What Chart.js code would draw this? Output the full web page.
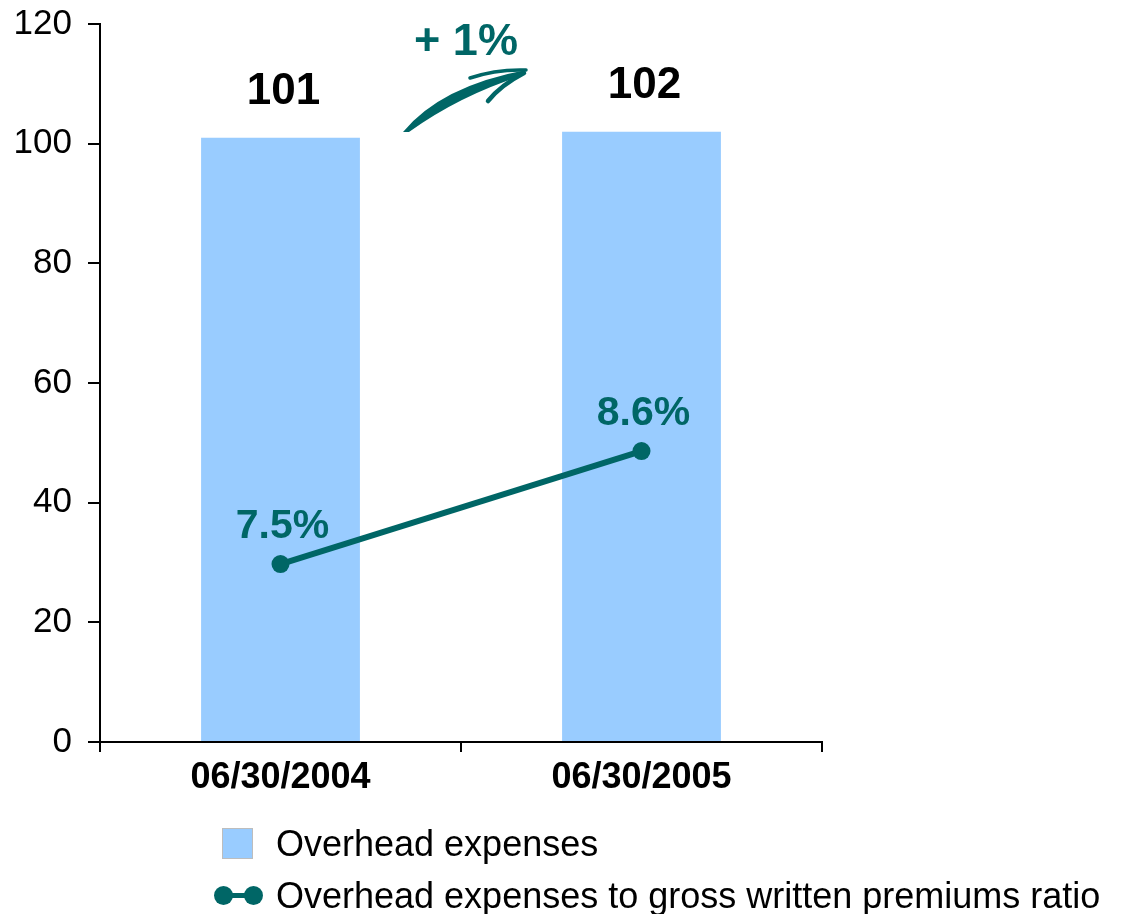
<!DOCTYPE html>
<html>
<head>
<meta charset="utf-8">
<script src="https://cdn.jsdelivr.net/npm/chart.js@4"></script>
<style>
  html, body { margin: 0; padding: 0; background: #fff; }
  #wrap { position: relative; width: 1131px; height: 914px; }
  #legend { position: absolute; left: 0; top: 0; font-family: "Liberation Sans", Arial, sans-serif; font-size: 36px; color: #000; }
  .item { position: absolute; left: 214px; white-space: nowrap; line-height: 36px; }
  .item span.txt { position: absolute; left: 62px; top: 0; }
  .box { position: absolute; left: 8px; top: 2px; width: 29px; height: 29px; border: 1px solid #bdbdbd; }
  .dot { position: absolute; top: 8px; width: 19px; height: 19px; border-radius: 50%; }
  .bar { position: absolute; left: 9px; top: 15px; width: 30px; height: 5px; }
</style>
</head>
<body>
<div id="wrap">
  <canvas id="myChart" width="1131" height="914"></canvas>
  <div id="legend"></div>
</div>
<script>
const categories = ['06/30/2004', '06/30/2005'];
const overheadExpenses = [101, 102];
const overheadRatio = [7.5, 8.6];
const seriesNames = [
  'Overhead expenses',
  'Overhead expenses to gross written premiums ratio',
];

const barColor = '#99CCFF';
const teal = '#006666';
const fontFamily = '"Liberation Sans", Arial, sans-serif';

// value labels, growth note and the swoosh arrow between the bars
const labelPlugin = {
  id: 'labelPlugin',
  afterDatasetsDraw(chart) {
    const ctx = chart.ctx;
    const bars = chart.getDatasetMeta(0).data;
    const points = chart.getDatasetMeta(1).data;
    ctx.save();
    ctx.textAlign = 'center';
    ctx.textBaseline = 'middle';

    ctx.fillStyle = '#000';
    ctx.font = 'bold 44px ' + fontFamily;
    bars.forEach((el, i) => ctx.fillText(String(overheadExpenses[i]), el.x + 3, el.y - 46));

    ctx.fillStyle = teal;
    ctx.font = 'bold 41px ' + fontFamily;
    points.forEach((el, i) => ctx.fillText(overheadRatio[i].toFixed(1) + '%', el.x + 2, el.y - 37));

    const mid = (bars[0].x + bars[1].x) / 2;
    const top = chart.chartArea.top;
    const growth = Math.round((overheadExpenses[1] - overheadExpenses[0]) / overheadExpenses[0] * 100);
    ctx.font = 'bold 45px ' + fontFamily;
    ctx.fillText('+ ' + growth + '%', mid + 5, top + 19);

    ctx.beginPath();
    ctx.moveTo(mid - 58, top + 108);
    ctx.quadraticCurveTo(mid - 20, top + 62, mid + 65, top + 46);
    ctx.lineTo(mid + 60, top + 52);
    ctx.quadraticCurveTo(mid - 2, top + 72, mid - 52, top + 108);
    ctx.closePath();
    ctx.fill();

    ctx.strokeStyle = teal;
    ctx.lineCap = 'round';
    ctx.lineWidth = 3.5;
    ctx.beginPath();
    ctx.moveTo(mid + 9, top + 54);
    ctx.quadraticCurveTo(mid + 35, top + 45, mid + 65, top + 46);
    ctx.stroke();
    ctx.lineWidth = 4.5;
    ctx.beginPath();
    ctx.moveTo(mid + 27, top + 77);
    ctx.quadraticCurveTo(mid + 40, top + 61, mid + 63, top + 49);
    ctx.stroke();
    ctx.restore();
  }
};

const data = {
  labels: categories,
  datasets: [{
    type: 'bar',
    label: seriesNames[0],
    data: overheadExpenses,
    backgroundColor: barColor,
    borderWidth: 0,
    categoryPercentage: 1.0,
    barPercentage: 0.44,
    yAxisID: 'y',
    order: 1,
  }, {
    type: 'line',
    label: seriesNames[1],
    data: overheadRatio,
    borderColor: teal,
    backgroundColor: teal,
    borderWidth: 6,
    pointRadius: 9,
    pointBackgroundColor: teal,
    pointBorderWidth: 0,
    yAxisID: 'y1',
    order: 0,
  }]
};

const config = {
  data: data,
  options: {
    responsive: false,
    animation: false,
    layout: {
      padding: { top: 24, left: 0, right: 309, bottom: 112 }
    },
    plugins: {
      legend: { display: false },
      tooltip: { enabled: false },
    },
    scales: {
      x: {
        afterFit: s => { s.height = 60; },
        grid: {
          offset: true,
          drawOnChartArea: false,
          tickLength: 10,
          color: '#000',
          lineWidth: 2,
        },
        border: { color: '#000', width: 2 },
        ticks: {
          color: '#000',
          padding: 4,
          font: { family: fontFamily, size: 36, weight: 'bold' },
        },
      },
      y: {
        min: 0,
        max: 120,
        afterFit: s => {
          s.width = 100;
          // let the "120" label overhang the padding instead of shrinking the plot
          s.paddingTop = 0;
          s.paddingBottom = 0;
        },
        grid: {
          drawOnChartArea: false,
          tickLength: 12,
          color: '#000',
          lineWidth: 2,
        },
        border: { color: '#000', width: 2 },
        ticks: {
          stepSize: 20,
          color: '#000',
          padding: 16,
          font: { family: fontFamily, size: 35 },
        },
      },
      y1: {
        display: false,
        min: 5.767,
        max: 12.758,
      },
    }
  },
  plugins: [labelPlugin],
};

const myChart = new Chart(document.getElementById('myChart'), config);

// legend built from the dataset definitions
const legend = document.getElementById('legend');
legend.innerHTML =
  '<div class="item" style="top:826px"><div class="box" style="background:' + barColor + '"></div>' +
  '<span class="txt">' + seriesNames[0] + '</span></div>' +
  '<div class="item" style="top:878px">' +
  '<div class="dot" style="left:0;background:' + teal + '"></div>' +
  '<div class="bar" style="background:' + teal + '"></div>' +
  '<div class="dot" style="left:30px;background:' + teal + '"></div>' +
  '<span class="txt">' + seriesNames[1] + '</span></div>';
</script>
</body>
</html>
